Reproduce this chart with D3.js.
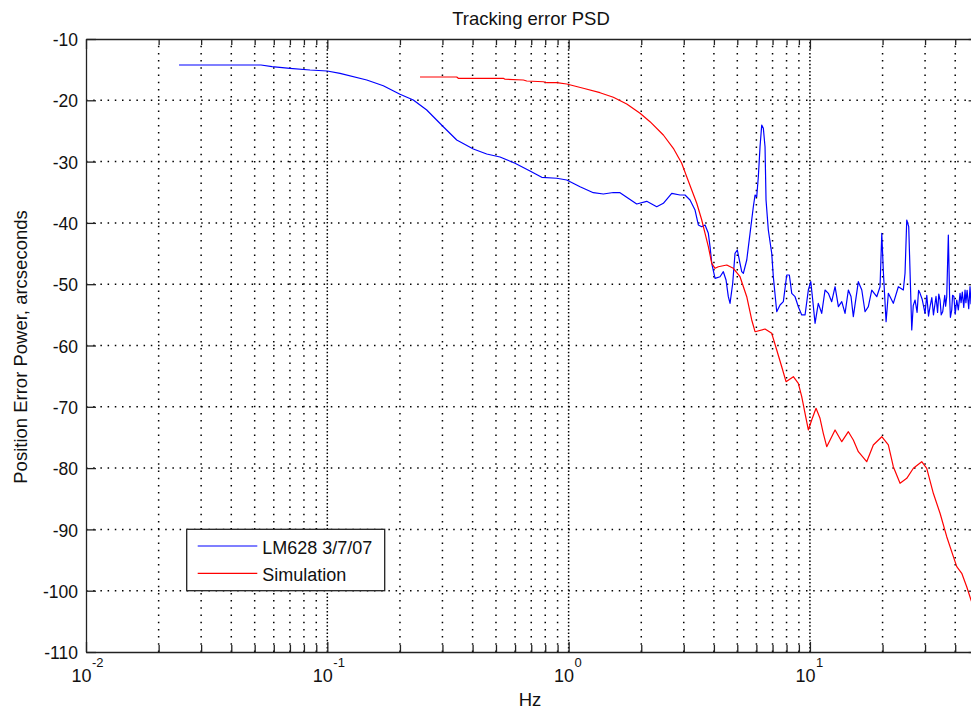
<!DOCTYPE html>
<html>
<head>
<meta charset="utf-8">
<script src="https://cdn.jsdelivr.net/npm/d3@7"></script>
<style>
	body { margin: 0; background: #fff; }
	svg { display: block; font-family: Arial, "Liberation Sans", Helvetica, sans-serif; }
	.grid line { stroke: #000; stroke-width: 1.5; stroke-dasharray: 1.5, 5.7; }
	.axis path, .axis line { stroke: #222; stroke-width: 1.3; }
</style>
</head>
<body>
<svg id="chart"></svg>
<script>
	// measured LM628 tracking error (Hz, dB)
	const lmFreq = [
		0.0243, 0.0531, 0.059, 0.070, 0.0848, 0.0999, 0.1129, 0.1457, 0.1706, 0.2001,
		0.2272, 0.2582, 0.3025, 0.3438, 0.4028, 0.4577, 0.5196, 0.5996, 0.6918, 0.7737,
		0.8927, 0.982, 1.115, 1.266, 1.393, 1.532, 1.633, 1.797, 1.915, 2.107,
		2.318, 2.469, 2.675, 2.895, 3.036, 3.185, 3.341, 3.448, 3.562, 3.676,
		3.793, 3.855, 3.919, 4.044, 4.241, 4.377, 4.491, 4.590, 4.666, 4.786,
		4.893, 5.001, 5.132, 5.216, 5.297, 5.472, 5.647, 5.827, 5.923, 6.019,
		6.112, 6.212, 6.313, 6.411, 6.515, 6.578, 6.723, 6.945, 7.052, 7.285,
		7.518, 7.759, 8.015, 8.217, 8.407, 8.676, 8.952, 9.247, 9.544, 9.849,
		10.08, 10.27, 10.50, 10.83, 11.19, 11.55, 11.92, 12.31, 12.71, 13.12,
		13.55, 13.98, 14.43, 14.8, 15.13, 15.87, 16.40, 16.92, 17.46, 18.04, 18.92,
		19.52, 19.85, 20.15, 20.68, 21.13, 22.16, 23.25, 24.38, 24.78, 25.19,
		25.67, 26.42, 26.8, 27.27, 27.8, 28.2, 28.60, 29.2, 29.99, 30.5,
		31.0, 31.46, 32.0, 32.5, 33.3, 33.8, 34.2, 34.61, 35.0, 35.5,
		36.2, 36.5, 36.89, 37.46, 37.9, 38.2, 38.70, 39.0, 39.5, 40.0,
		40.59, 41.2, 41.89, 42.3, 42.8, 43.4, 43.93, 44.3, 44.8, 45.5,
		46.07, 46.5, 47.3, 48.0, 48.5
	];
	const lmPower = [
		-14.24, -14.24, -14.5, -14.78, -15.06, -15.22, -15.6, -16.69, -17.62, -19.02,
		-19.95, -21.58, -24.31, -26.48, -27.94, -28.76, -29.25, -30.28, -31.53, -32.56,
		-32.72, -33.0, -34.09, -35.07, -35.29, -35.04, -35.07, -36.18, -36.92, -36.48,
		-37.36, -36.8, -35.17, -35.45, -35.45, -36.26, -37.9, -40.34, -40.62, -40.34,
		-41.7, -43.88, -46.59, -49.04, -48.78, -47.96, -49.31, -52.04, -53.12, -49.85,
		-44.96, -44.42, -46.59, -47.96, -48.22, -46.05, -41.7, -37.36, -35.45, -35.73,
		-32.46, -27.57, -24.03, -24.57, -27.57, -36.26, -41.16, -44.96, -48.78, -54.49,
		-53.39, -52.85, -48.5, -48.5, -51.49, -52.04, -53.67, -55.02, -55.02, -50.95,
		-49.59, -52.58, -56.38, -53.12, -54.75, -50.95, -51.49, -52.85, -50.41, -53.67,
		-52.85, -54.75, -50.95, -52.0, -55.3, -49.59, -50.95, -54.49, -53.67, -50.95, -52.04,
		-50.41, -41.7, -47.96, -56.12, -51.49, -53.12, -50.41, -50.95, -48.22, -39.53,
		-40.62, -57.47, -53.5, -52.58, -54.6, -51.0, -51.49, -52.5, -54.75, -51.8,
		-55.2, -53.67, -52.2, -55.0, -52.0, -54.6, -51.6, -52.58, -55.0, -54.5,
		-51.8, -53.6, -52.04, -41.97, -51.8, -55.4, -54.21, -51.8, -52.0, -54.9,
		-52.58, -54.2, -51.49, -53.0, -51.3, -53.8, -50.95, -53.0, -51.0, -54.0,
		-50.41, -53.2, -50.8, -54.0, -52.0
	];

	// simulation (Hz, dB)
	const simFreq = [
		0.2422, 0.3438, 0.349, 0.5363, 0.545, 0.6492, 0.6706, 0.7855, 0.8112, 0.8927,
		0.982, 1.150, 1.349, 1.532, 1.741, 1.977, 2.174, 2.469, 2.716, 2.942,
		3.086, 3.237, 3.396, 3.562, 3.676, 3.793, 3.919, 4.044, 4.173, 4.521,
		4.814, 5.132, 5.472, 5.739, 5.923, 6.515, 6.945, 7.285, 7.640, 7.960,
		8.536, 8.952, 9.247, 9.544, 9.849, 10.17, 10.60, 11.01, 11.36, 11.74,
		12.71, 13.55, 14.43, 15.13, 15.87, 17.19, 18.31, 19.85, 21.13, 22.16,
		23.63, 25.19, 26.83, 29.06, 30.48, 32.46, 34.61, 36.89, 39.30, 40.59,
		42.57, 44.64, 46.51, 48.5
	];
	const simPower = [
		-16.2, -16.2, -16.41, -16.41, -16.57, -16.69, -16.85, -16.97, -17.13, -17.13,
		-17.34, -18.04, -18.76, -19.51, -20.6, -22.12, -23.49, -25.66, -27.83, -30.28,
		-32.46, -34.63, -36.8, -39.53, -41.7, -43.88, -46.59, -47.41, -47.15, -46.87,
		-47.41, -48.78, -52.04, -55.84, -57.75, -57.31, -58.01, -60.73, -63.46, -65.9,
		-65.09, -66.17, -68.35, -71.06, -73.78, -72.15, -70.24, -71.88, -74.32, -76.51,
		-73.78, -75.69, -74.06, -75.42, -77.32, -78.96, -76.23, -74.88, -76.23, -79.77,
		-82.48, -81.67, -80.03, -78.96, -80.03, -84.11, -87.37, -91.19, -94.45, -96.08,
		-97.16, -99.35, -101.52, -103.4
	];

	const seriesNames = ["LM628 3/7/07", "Simulation"];
	const seriesColors = ["#0000ff", "#ff0000"];
	const yTicks = [-110, -100, -90, -80, -70, -60, -50, -40, -30, -20, -10];
	const xDecades = [0.01, 0.1, 1, 10];
	const xExponents = ["-2", "-1", "0", "1"];

	const width = 971;
	const height = 709;
	const plot = { left: 86, top: 39, right: 978.6, bottom: 652 };

	const svg = d3.select("#chart")
		.attr("width", width)
		.attr("height", height);

	const xScale = d3.scaleLog()
		.domain([0.01, 50])
		.range([plot.left, plot.right]);

	const yScale = d3.scaleLinear()
		.domain([-110, -10])
		.range([plot.bottom, plot.top]);

	const xAll = xScale.ticks();
	const xMinor = xAll.filter((d) => !xDecades.some((m) => Math.abs(m - d) < 1e-9));

	svg.append("defs")
		.append("clipPath")
		.attr("id", "plotClip")
		.append("rect")
		.attr("x", plot.left)
		.attr("y", plot.top)
		.attr("width", plot.right - plot.left)
		.attr("height", plot.bottom - plot.top);

	// dotted grid, decades get a second offset pass like the major+minor overlap
	const grid = svg.append("g").attr("class", "grid");

	grid.selectAll("line.vx")
		.data(xAll.filter((d) => d > 0.01))
		.enter()
		.append("line")
		.attr("class", "vx")
		.attr("x1", (d) => xScale(d))
		.attr("x2", (d) => xScale(d))
		.attr("y1", plot.bottom)
		.attr("y2", plot.top);

	grid.selectAll("line.vmaj")
		.data(xDecades.slice(1))
		.enter()
		.append("line")
		.attr("class", "vmaj")
		.attr("x1", (d) => xScale(d))
		.attr("x2", (d) => xScale(d))
		.attr("y1", plot.bottom)
		.attr("y2", plot.top)
		.attr("stroke-dashoffset", 3.6);

	grid.selectAll("line.hy")
		.data(yTicks.slice(1, -1))
		.enter()
		.append("line")
		.attr("class", "hy")
		.attr("x1", plot.left)
		.attr("x2", plot.right)
		.attr("y1", (d) => yScale(d))
		.attr("y2", (d) => yScale(d));

	// curves
	const series = [
		{ name: seriesNames[0], color: seriesColors[0], points: lmFreq.map((f, i) => [f, lmPower[i]]) },
		{ name: seriesNames[1], color: seriesColors[1], points: simFreq.map((f, i) => [f, simPower[i]]) }
	];

	const line = d3.line()
		.x((d) => xScale(d[0]))
		.y((d) => yScale(d[1]));

	svg.append("g")
		.attr("clip-path", "url(#plotClip)")
		.selectAll("path")
		.data(series)
		.enter()
		.append("path")
		.attr("fill", "none")
		.attr("stroke", (d) => d.color)
		.attr("stroke-width", 1.2)
		.attr("stroke-linejoin", "round")
		.attr("d", (d) => line(d.points));

	// axes, ticks point inward
	function styleAxis(g) {
		g.attr("font-size", null).attr("font-family", null);
		g.selectAll("text").attr("fill", "#111").attr("font-size", 17.5);
	}

	svg.append("g")
		.attr("class", "axis")
		.attr("transform", `translate(0,${plot.bottom})`)
		.call(d3.axisBottom(xScale).tickValues(xDecades).tickSize(-10).tickSizeOuter(0).tickFormat(""));

	svg.append("g")
		.attr("class", "axis")
		.attr("transform", `translate(0,${plot.bottom})`)
		.call(d3.axisBottom(xScale).tickValues(xMinor).tickSize(-7).tickSizeOuter(0).tickFormat(""))
		.call((g) => g.select(".domain").remove());

	svg.append("g")
		.attr("class", "axis")
		.attr("transform", `translate(0,${plot.top})`)
		.call(d3.axisTop(xScale).tickValues(xDecades).tickSize(-10).tickSizeOuter(0).tickFormat(""));

	svg.append("g")
		.attr("class", "axis")
		.attr("transform", `translate(0,${plot.top})`)
		.call(d3.axisTop(xScale).tickValues(xMinor).tickSize(-6).tickSizeOuter(0).tickFormat(""))
		.call((g) => g.select(".domain").remove());

	svg.append("g")
		.attr("class", "axis")
		.attr("transform", `translate(${plot.left},0)`)
		.call(d3.axisLeft(yScale).tickValues(yTicks).tickSize(-10).tickSizeOuter(0).tickPadding(8).tickFormat((d) => String(d)))
		.call(styleAxis)
		.call((g) => g.selectAll("text").attr("dy", "0.38em"));

	svg.append("g")
		.attr("class", "axis")
		.attr("transform", `translate(${plot.right},0)`)
		.call(d3.axisRight(yScale).tickValues(yTicks).tickSize(-10).tickSizeOuter(0).tickFormat(""));

	// log tick labels 10^n
	const xLabels = svg.append("g")
		.selectAll("g")
		.data(xDecades)
		.enter()
		.append("g")
		.attr("transform", (d) => `translate(${xScale(d) + 5.5},0)`);

	xLabels.append("text")
		.attr("y", 682)
		.attr("text-anchor", "end")
		.attr("font-size", 18)
		.attr("fill", "#111")
		.text("10");

	xLabels.append("text")
		.attr("y", 667)
		.attr("x", 0.5)
		.attr("text-anchor", "start")
		.attr("font-size", 13)
		.attr("fill", "#111")
		.text((d, i) => xExponents[i]);

	// titles
	svg.append("text")
		.attr("x", 531)
		.attr("y", 25)
		.attr("text-anchor", "middle")
		.attr("font-size", 18.5)
		.attr("fill", "#111")
		.text("Tracking error PSD");

	svg.append("text")
		.attr("x", 530)
		.attr("y", 706)
		.attr("text-anchor", "middle")
		.attr("font-size", 18.5)
		.attr("fill", "#111")
		.text("Hz");

	svg.append("text")
		.attr("transform", "translate(27,347) rotate(-90)")
		.attr("text-anchor", "middle")
		.attr("font-size", 18.5)
		.attr("fill", "#111")
		.text("Position Error Power, arcseconds");

	// legend
	const legend = svg.append("g").attr("transform", "translate(186.7,529.3)");

	legend.append("rect")
		.attr("width", 198)
		.attr("height", 61.4)
		.attr("fill", "#fff")
		.attr("stroke", "#222")
		.attr("stroke-width", 1.3);

	const entries = legend.selectAll("g.entry")
		.data(series)
		.enter()
		.append("g")
		.attr("class", "entry")
		.attr("transform", (d, i) => `translate(0,${16.7 + i * 27.3})`);

	entries.append("line")
		.attr("x1", 11)
		.attr("x2", 70.6)
		.attr("stroke", (d) => d.color)
		.attr("stroke-width", 1.2);

	entries.append("text")
		.attr("x", 75.6)
		.attr("y", 7.5)
		.attr("font-size", 18)
		.attr("fill", "#111")
		.text((d) => d.name);
</script>
</body>
</html>
